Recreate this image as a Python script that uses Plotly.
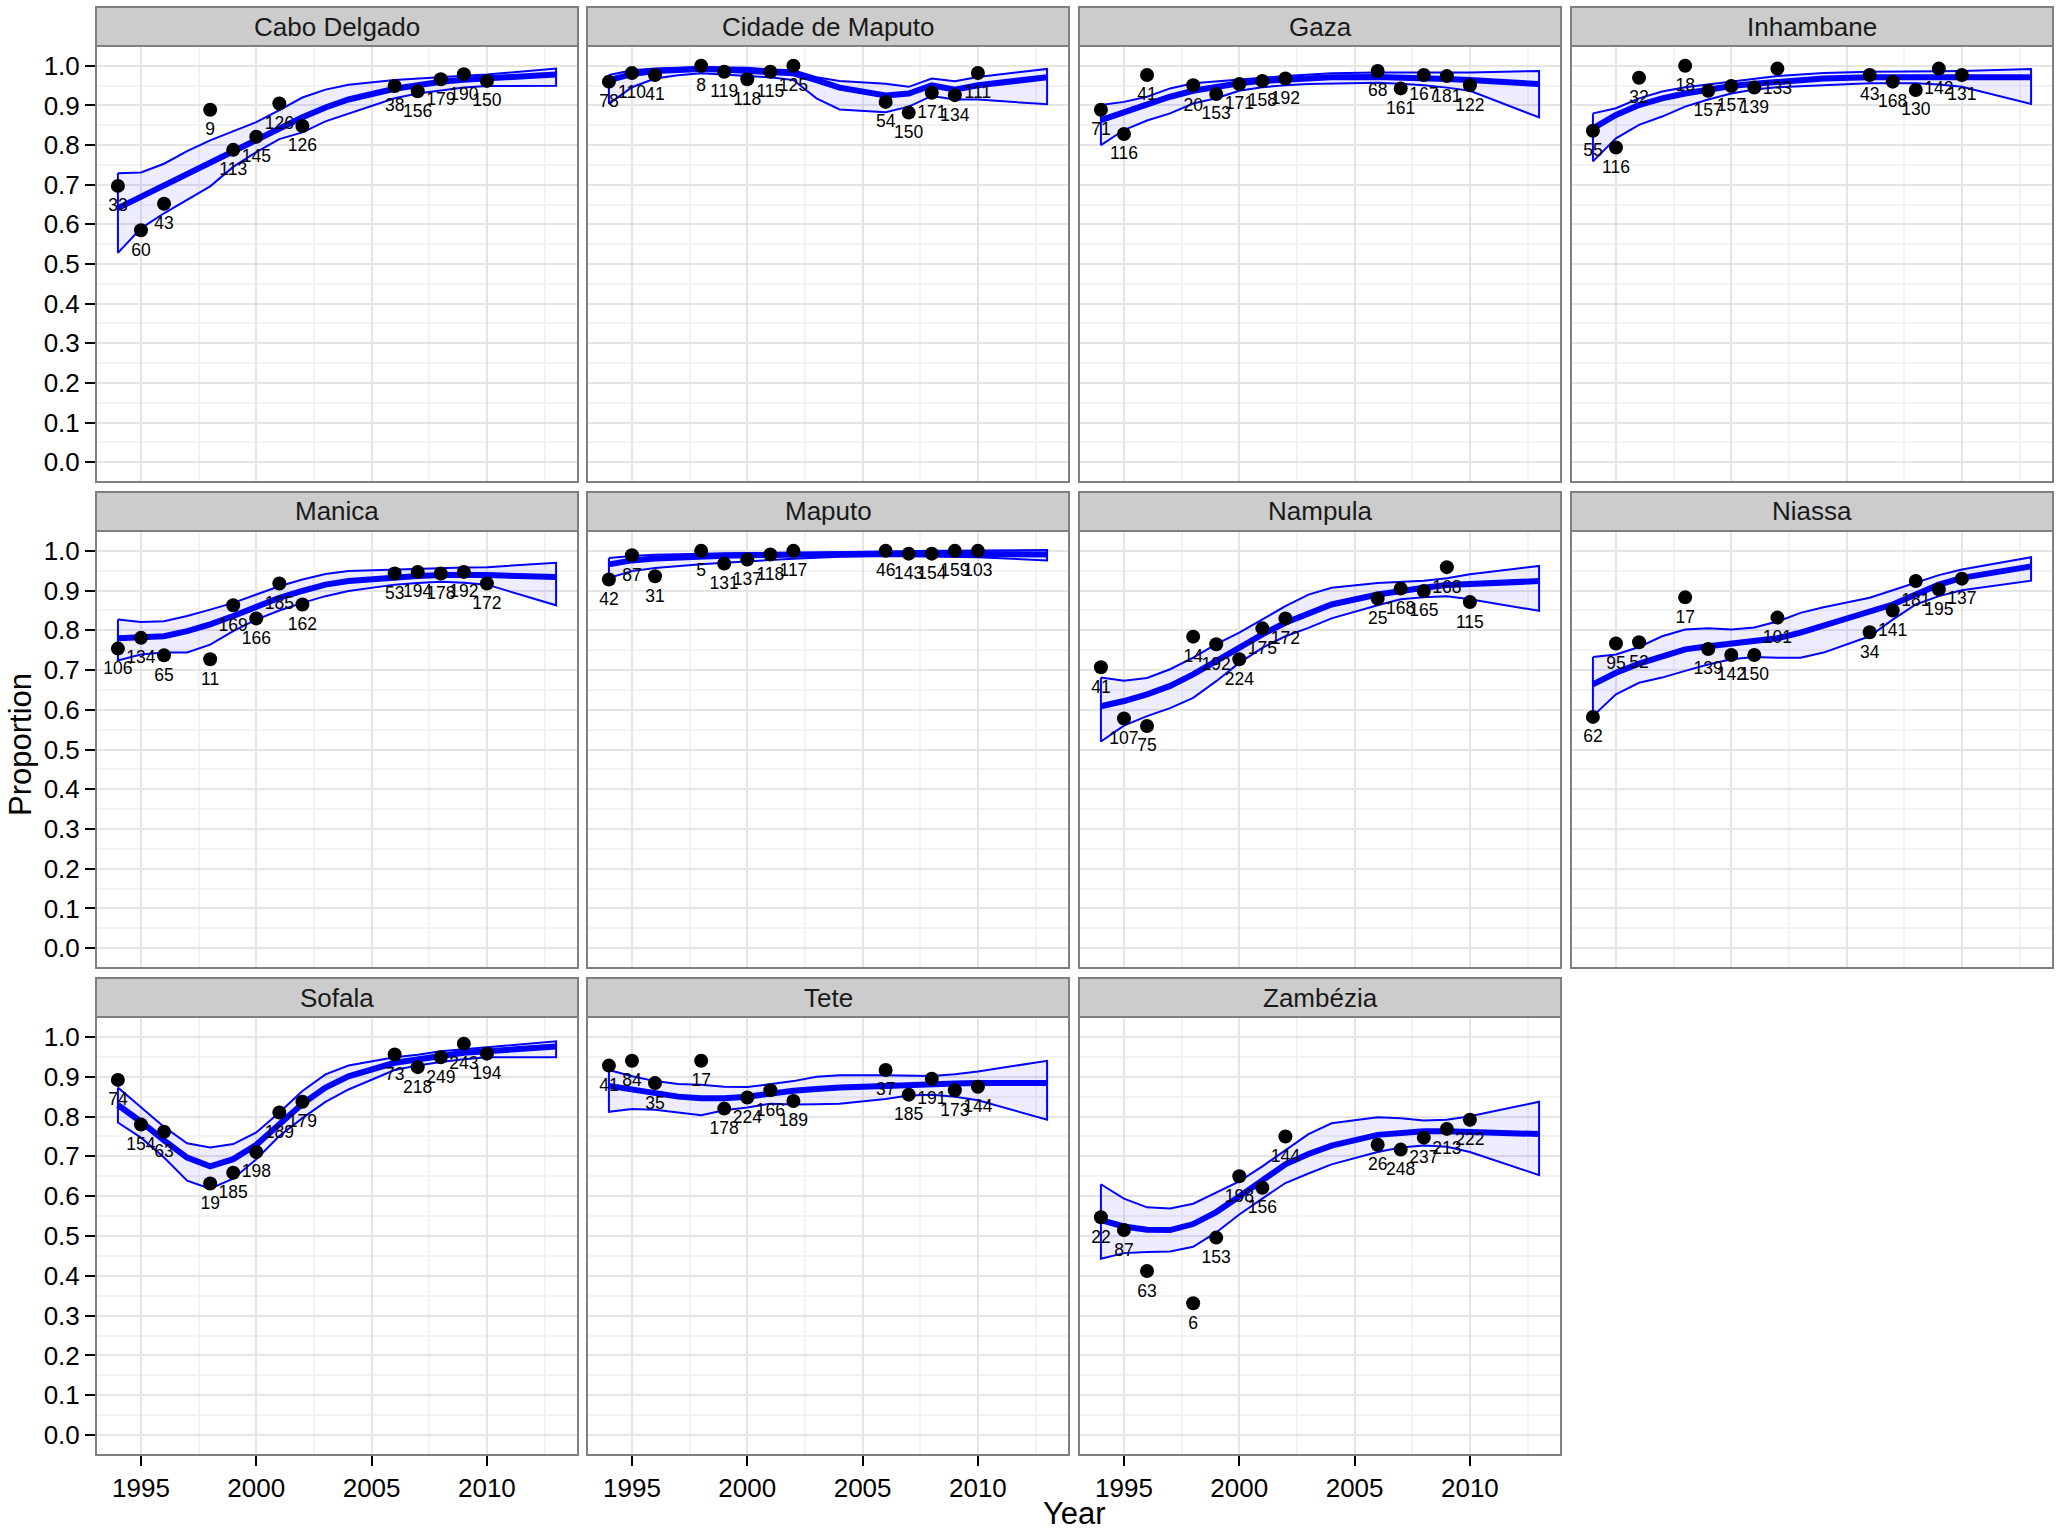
import plotly.graph_objects as go

W, H = 2059, 1530

REGIONS = ["Cabo Delgado", "Cidade de Maputo", "Gaza", "Inhambane",
           "Manica", "Maputo", "Nampula", "Niassa",
           "Sofala", "Tete", "Zambézia"]

YEARS = [1994, 1995, 1996, 1998, 1999, 2000, 2001, 2002, 2006, 2007, 2008, 2009, 2010]
SMOOTH_YEARS = [1994, 1995, 1996, 1997, 1998, 1999, 2000, 2001, 2002, 2003, 2004,
                2006, 2007, 2008, 2009, 2010, 2013]

X_TICKS = [1995, 2000, 2005, 2010]
Y_TICKS = [0.0, 0.1, 0.2, 0.3, 0.4, 0.5, 0.6, 0.7, 0.8, 0.9, 1.0]

# ---- Cabo Delgado
cabo_prop = [0.697, 0.585, 0.652, 0.889, 0.788, 0.821, 0.905, 0.848, 0.949, 0.936, 0.966, 0.979, 0.962]
cabo_n = [33, 60, 43, 9, 113, 145, 126, 126, 38, 156, 179, 190, 150]
cabo_fit = [0.641, 0.670, 0.700, 0.728, 0.755, 0.785, 0.815, 0.843, 0.870, 0.895, 0.915, 0.942, 0.952, 0.960, 0.965, 0.969, 0.978]
cabo_hi = [0.729, 0.731, 0.753, 0.785, 0.812, 0.835, 0.858, 0.888, 0.920, 0.940, 0.952, 0.964, 0.968, 0.972, 0.975, 0.978, 0.993]
cabo_lo = [0.528, 0.590, 0.628, 0.662, 0.696, 0.745, 0.782, 0.815, 0.832, 0.860, 0.880, 0.918, 0.930, 0.938, 0.945, 0.949, 0.950]

# ---- Cidade de Maputo
cidade_prop = [0.960, 0.982, 0.977, 1.000, 0.985, 0.966, 0.985, 1.000, 0.909, 0.882, 0.932, 0.926, 0.982]
cidade_n = [78, 110, 41, 8, 119, 118, 115, 125, 54, 150, 171, 134, 111]
cidade_fit = [0.964, 0.979, 0.987, 0.990, 0.992, 0.990, 0.987, 0.982, 0.981, 0.964, 0.945, 0.925, 0.930, 0.951, 0.940, 0.951, 0.971]
cidade_hi = [0.977, 0.989, 0.993, 0.995, 0.997, 0.996, 0.995, 0.991, 0.989, 0.971, 0.962, 0.955, 0.947, 0.968, 0.961, 0.972, 0.992]
cidade_lo = [0.904, 0.946, 0.968, 0.976, 0.981, 0.978, 0.974, 0.971, 0.964, 0.918, 0.890, 0.883, 0.897, 0.924, 0.915, 0.915, 0.903]

# ---- Gaza
gaza_prop = [0.889, 0.828, 0.977, 0.951, 0.929, 0.954, 0.962, 0.968, 0.987, 0.943, 0.977, 0.974, 0.951]
gaza_n = [71, 116, 41, 20, 153, 171, 158, 192, 68, 161, 167, 181, 122]
gaza_fit = [0.863, 0.884, 0.905, 0.922, 0.937, 0.947, 0.956, 0.962, 0.966, 0.969, 0.971, 0.972, 0.971, 0.970, 0.967, 0.964, 0.954]
gaza_hi = [0.901, 0.909, 0.922, 0.943, 0.956, 0.961, 0.966, 0.970, 0.974, 0.978, 0.981, 0.983, 0.983, 0.983, 0.983, 0.983, 0.987]
gaza_lo = [0.800, 0.838, 0.862, 0.880, 0.905, 0.918, 0.937, 0.946, 0.951, 0.954, 0.956, 0.957, 0.955, 0.951, 0.945, 0.937, 0.870]

# ---- Inhambane
inhambane_prop = [0.836, 0.794, 0.970, 1.000, 0.937, 0.949, 0.945, 0.993, 0.977, 0.960, 0.939, 0.993, 0.977]
inhambane_n = [55, 116, 32, 18, 157, 157, 139, 133, 43, 168, 130, 142, 131]
inhambane_fit = [0.842, 0.876, 0.901, 0.918, 0.930, 0.940, 0.949, 0.955, 0.960, 0.964, 0.968, 0.971, 0.971, 0.971, 0.971, 0.971, 0.971]
inhambane_hi = [0.880, 0.893, 0.918, 0.935, 0.946, 0.953, 0.960, 0.967, 0.974, 0.978, 0.982, 0.985, 0.985, 0.985, 0.986, 0.987, 0.992]
inhambane_lo = [0.759, 0.817, 0.851, 0.872, 0.897, 0.915, 0.930, 0.940, 0.946, 0.949, 0.951, 0.956, 0.956, 0.956, 0.953, 0.947, 0.904]

# ---- Manica
manica_prop = [0.754, 0.781, 0.737, 0.727, 0.863, 0.830, 0.918, 0.865, 0.943, 0.947, 0.943, 0.947, 0.918]
manica_n = [106, 134, 65, 11, 169, 166, 185, 162, 53, 194, 178, 192, 172]
manica_fit = [0.780, 0.781, 0.785, 0.798, 0.815, 0.836, 0.857, 0.882, 0.899, 0.915, 0.924, 0.934, 0.937, 0.939, 0.939, 0.939, 0.934]
manica_hi = [0.827, 0.821, 0.823, 0.836, 0.852, 0.869, 0.890, 0.911, 0.928, 0.942, 0.949, 0.953, 0.955, 0.956, 0.958, 0.959, 0.970]
manica_lo = [0.724, 0.739, 0.744, 0.744, 0.764, 0.798, 0.827, 0.850, 0.869, 0.886, 0.899, 0.915, 0.919, 0.922, 0.920, 0.915, 0.863]

# ---- Maputo
maputo_prop = [0.928, 0.989, 0.936, 1.000, 0.968, 0.978, 0.991, 1.000, 1.000, 0.993, 0.993, 1.000, 1.000]
maputo_n = [42, 87, 31, 5, 131, 137, 118, 117, 46, 143, 154, 159, 103]
maputo_fit = [0.966, 0.976, 0.981, 0.984, 0.987, 0.988, 0.989, 0.990, 0.991, 0.992, 0.992, 0.993, 0.993, 0.993, 0.993, 0.993, 0.991]
maputo_hi = [0.982, 0.987, 0.990, 0.992, 0.993, 0.994, 0.994, 0.995, 0.995, 0.996, 0.997, 0.999, 0.999, 1.000, 1.000, 1.001, 1.002]
maputo_lo = [0.932, 0.949, 0.957, 0.962, 0.966, 0.970, 0.974, 0.977, 0.980, 0.983, 0.985, 0.987, 0.987, 0.986, 0.985, 0.984, 0.976]

# ---- Nampula
nampula_prop = [0.707, 0.578, 0.559, 0.784, 0.765, 0.727, 0.805, 0.830, 0.880, 0.905, 0.899, 0.959, 0.871]
nampula_n = [41, 107, 75, 14, 192, 224, 175, 172, 25, 168, 165, 168, 115]
nampula_fit = [0.609, 0.622, 0.639, 0.660, 0.689, 0.723, 0.756, 0.790, 0.819, 0.844, 0.865, 0.890, 0.900, 0.907, 0.914, 0.917, 0.924]
nampula_hi = [0.681, 0.673, 0.680, 0.702, 0.731, 0.765, 0.794, 0.827, 0.861, 0.890, 0.907, 0.919, 0.922, 0.925, 0.931, 0.941, 0.962]
nampula_lo = [0.520, 0.560, 0.584, 0.604, 0.630, 0.672, 0.718, 0.756, 0.785, 0.806, 0.830, 0.863, 0.878, 0.883, 0.886, 0.878, 0.849]

# ---- Niassa
niassa_prop = [0.582, 0.767, 0.770, 0.883, 0.753, 0.738, 0.738, 0.832, 0.795, 0.850, 0.924, 0.903, 0.930]
niassa_n = [62, 95, 52, 17, 139, 142, 150, 101, 34, 141, 181, 195, 137]
niassa_fit = [0.664, 0.693, 0.716, 0.733, 0.752, 0.760, 0.766, 0.771, 0.780, 0.794, 0.811, 0.845, 0.865, 0.890, 0.915, 0.932, 0.961]
niassa_hi = [0.733, 0.739, 0.758, 0.785, 0.802, 0.805, 0.802, 0.807, 0.822, 0.844, 0.858, 0.882, 0.901, 0.920, 0.939, 0.953, 0.984]
niassa_lo = [0.584, 0.639, 0.668, 0.681, 0.698, 0.714, 0.727, 0.733, 0.731, 0.731, 0.744, 0.785, 0.827, 0.865, 0.886, 0.901, 0.925]

# ---- Sofala
sofala_prop = [0.892, 0.780, 0.762, 0.632, 0.659, 0.711, 0.810, 0.837, 0.956, 0.924, 0.949, 0.983, 0.958]
sofala_n = [74, 154, 63, 19, 185, 198, 189, 179, 73, 218, 249, 243, 194]
sofala_fit = [0.829, 0.787, 0.740, 0.697, 0.675, 0.693, 0.729, 0.783, 0.832, 0.873, 0.901, 0.935, 0.944, 0.953, 0.960, 0.964, 0.976]
sofala_hi = [0.873, 0.823, 0.774, 0.733, 0.722, 0.731, 0.760, 0.810, 0.864, 0.906, 0.928, 0.949, 0.955, 0.964, 0.969, 0.973, 0.989]
sofala_lo = [0.785, 0.747, 0.697, 0.639, 0.619, 0.644, 0.693, 0.751, 0.796, 0.837, 0.868, 0.917, 0.928, 0.937, 0.944, 0.949, 0.949]

# ---- Tete
tete_prop = [0.928, 0.940, 0.884, 0.940, 0.820, 0.848, 0.866, 0.839, 0.917, 0.855, 0.895, 0.866, 0.875]
tete_n = [41, 84, 35, 17, 178, 224, 166, 189, 37, 185, 191, 173, 144]
tete_fit = [0.877, 0.868, 0.859, 0.850, 0.846, 0.846, 0.850, 0.859, 0.865, 0.869, 0.873, 0.877, 0.880, 0.882, 0.883, 0.884, 0.884]
tete_hi = [0.917, 0.901, 0.889, 0.882, 0.880, 0.875, 0.874, 0.882, 0.889, 0.900, 0.904, 0.904, 0.903, 0.902, 0.906, 0.913, 0.940]
tete_lo = [0.812, 0.819, 0.817, 0.810, 0.803, 0.816, 0.823, 0.832, 0.830, 0.831, 0.832, 0.844, 0.853, 0.855, 0.850, 0.841, 0.792]

# ---- Zambézia
zambezia_prop = [0.547, 0.515, 0.412, 0.331, 0.496, 0.650, 0.621, 0.750, 0.729, 0.717, 0.747, 0.769, 0.792]
zambezia_n = [22, 87, 63, 6, 153, 198, 156, 144, 26, 248, 237, 213, 222]
zambezia_fit = [0.540, 0.524, 0.516, 0.515, 0.530, 0.560, 0.599, 0.639, 0.680, 0.706, 0.727, 0.754, 0.760, 0.763, 0.763, 0.762, 0.756]
zambezia_hi = [0.630, 0.594, 0.572, 0.569, 0.581, 0.608, 0.637, 0.675, 0.715, 0.756, 0.783, 0.798, 0.796, 0.790, 0.792, 0.801, 0.837]
zambezia_lo = [0.443, 0.457, 0.460, 0.461, 0.473, 0.509, 0.554, 0.594, 0.633, 0.657, 0.680, 0.711, 0.722, 0.727, 0.724, 0.711, 0.653]

DATA = {
    "Cabo Delgado": (cabo_prop, cabo_n, cabo_fit, cabo_lo, cabo_hi),
    "Cidade de Maputo": (cidade_prop, cidade_n, cidade_fit, cidade_lo, cidade_hi),
    "Gaza": (gaza_prop, gaza_n, gaza_fit, gaza_lo, gaza_hi),
    "Inhambane": (inhambane_prop, inhambane_n, inhambane_fit, inhambane_lo, inhambane_hi),
    "Manica": (manica_prop, manica_n, manica_fit, manica_lo, manica_hi),
    "Maputo": (maputo_prop, maputo_n, maputo_fit, maputo_lo, maputo_hi),
    "Nampula": (nampula_prop, nampula_n, nampula_fit, nampula_lo, nampula_hi),
    "Niassa": (niassa_prop, niassa_n, niassa_fit, niassa_lo, niassa_hi),
    "Sofala": (sofala_prop, sofala_n, sofala_fit, sofala_lo, sofala_hi),
    "Tete": (tete_prop, tete_n, tete_fit, tete_lo, tete_hi),
    "Zambézia": (zambezia_prop, zambezia_n, zambezia_fit, zambezia_lo, zambezia_hi),
}

# ---- layout geometry (pixels)
COL_X = [(96, 578), (587, 1069), (1079, 1561), (1571, 2053)]
ROW_Y = [(46, 482), (531, 968), (1017, 1455)]
STRIP_H = 39

FONT = "Liberation Sans, Arial, Helvetica, sans-serif"
BLUE = "#0000FF"
LABEL_DY = 0.053

fig = go.Figure()
shapes = []
annotations = []
layout_axes = {}


def px_x(p):
    return p / W


def px_y(p):
    return 1 - p / H


for k, region in enumerate(REGIONS):
    row, col = divmod(k, 4)
    idx = k + 1
    xa = "x" if idx == 1 else f"x{idx}"
    ya = "y" if idx == 1 else f"y{idx}"
    prop, n, fit, lo, hi = DATA[region]

    # ribbon (closed polygon with outline)
    rx = SMOOTH_YEARS + SMOOTH_YEARS[::-1] + [SMOOTH_YEARS[0]]
    ry = hi + lo[::-1] + [hi[0]]
    fig.add_trace(go.Scatter(x=rx, y=ry, mode="lines", fill="toself",
                             fillcolor="rgba(0,0,255,0.07)",
                             line=dict(color=BLUE, width=2),
                             xaxis=xa, yaxis=ya, showlegend=False, hoverinfo="skip"))
    # fitted line
    fig.add_trace(go.Scatter(x=SMOOTH_YEARS, y=fit, mode="lines",
                             line=dict(color=BLUE, width=6),
                             xaxis=xa, yaxis=ya, showlegend=False))
    # points
    fig.add_trace(go.Scatter(x=YEARS, y=prop, mode="markers",
                             marker=dict(color="black", size=14),
                             xaxis=xa, yaxis=ya, showlegend=False))
    # sample-size labels below each point
    fig.add_trace(go.Scatter(x=YEARS, y=[p - LABEL_DY for p in prop], mode="text",
                             text=[str(v) for v in n], textposition="middle center",
                             textfont=dict(family=FONT, size=17.5, color="black"),
                             cliponaxis=False,
                             xaxis=xa, yaxis=ya, showlegend=False, hoverinfo="skip"))

    x0, x1 = COL_X[col]
    y0, y1 = ROW_Y[row]
    bottom_row = (row == 2)
    left_col = (col == 0)

    layout_axes["xaxis" if idx == 1 else f"xaxis{idx}"] = dict(
        domain=[px_x(x0), px_x(x1)], anchor=ya,
        range=[1993.05, 2013.95], tickvals=X_TICKS,
        ticktext=[str(t) for t in X_TICKS],
        showticklabels=bottom_row, ticks="outside" if bottom_row else "",
        ticklen=10, tickwidth=2, tickcolor="black",
        tickfont=dict(family=FONT, size=26, color="black"),
        showgrid=True, gridcolor="#E5E5E5", gridwidth=1.5,
        minor=dict(tickvals=[1997.5, 2002.5, 2007.5, 2012.5], showgrid=True,
                   gridcolor="#F3F3F3", gridwidth=1.5),
        zeroline=False, showline=False, fixedrange=True,
    )
    layout_axes["yaxis" if idx == 1 else f"yaxis{idx}"] = dict(
        domain=[px_y(y1), px_y(y0)], anchor=xa,
        range=[-0.05, 1.05], tickvals=Y_TICKS,
        ticktext=[f"{t:.1f}" for t in Y_TICKS],
        showticklabels=left_col, ticks="outside" if left_col else "",
        ticklen=10, tickwidth=2, tickcolor="black",
        tickfont=dict(family=FONT, size=26, color="black"),
        showgrid=True, gridcolor="#E5E5E5", gridwidth=1.5,
        minor=dict(tickvals=[0.05, 0.15, 0.25, 0.35, 0.45, 0.55, 0.65, 0.75, 0.85, 0.95],
                   showgrid=True, gridcolor="#F3F3F3", gridwidth=1.5),
        zeroline=False, showline=False, fixedrange=True,
    )

    # panel border
    shapes.append(dict(type="rect", xref="paper", yref="paper",
                       x0=px_x(x0), x1=px_x(x1), y0=px_y(y1), y1=px_y(y0),
                       line=dict(color="#7F7F7F", width=2), fillcolor="rgba(0,0,0,0)",
                       layer="above"))
    # strip
    shapes.append(dict(type="rect", xref="paper", yref="paper",
                       x0=px_x(x0), x1=px_x(x1), y0=px_y(y0), y1=px_y(y0 - STRIP_H),
                       line=dict(color="#7F7F7F", width=2), fillcolor="#CCCCCC",
                       layer="above"))
    annotations.append(dict(text=region, xref="paper", yref="paper",
                            x=px_x((x0 + x1) / 2), y=px_y(y0 - STRIP_H / 2),
                            xanchor="center", yanchor="middle", showarrow=False,
                            font=dict(family=FONT, size=26, color="#1A1A1A")))

# axis titles
annotations.append(dict(text="Year", xref="paper", yref="paper",
                        x=px_x((COL_X[0][0] + COL_X[3][1]) / 2), y=px_y(1513),
                        xanchor="center", yanchor="middle", showarrow=False,
                        font=dict(family=FONT, size=31, color="black")))
annotations.append(dict(text="Proportion", xref="paper", yref="paper",
                        x=px_x(20), y=px_y(745), textangle=-90,
                        xanchor="center", yanchor="middle", showarrow=False,
                        font=dict(family=FONT, size=31, color="black")))

fig.update_layout(
    width=W, height=H, autosize=False,
    margin=dict(l=0, r=0, t=0, b=0, pad=0),
    paper_bgcolor="white", plot_bgcolor="white",
    shapes=shapes, annotations=annotations,
    font=dict(family=FONT, color="black"),
    showlegend=False,
    **layout_axes,
)

fig.write_html("out.html", config={"displayModeBar": False},
               post_script="document.body.style.margin='0';")
